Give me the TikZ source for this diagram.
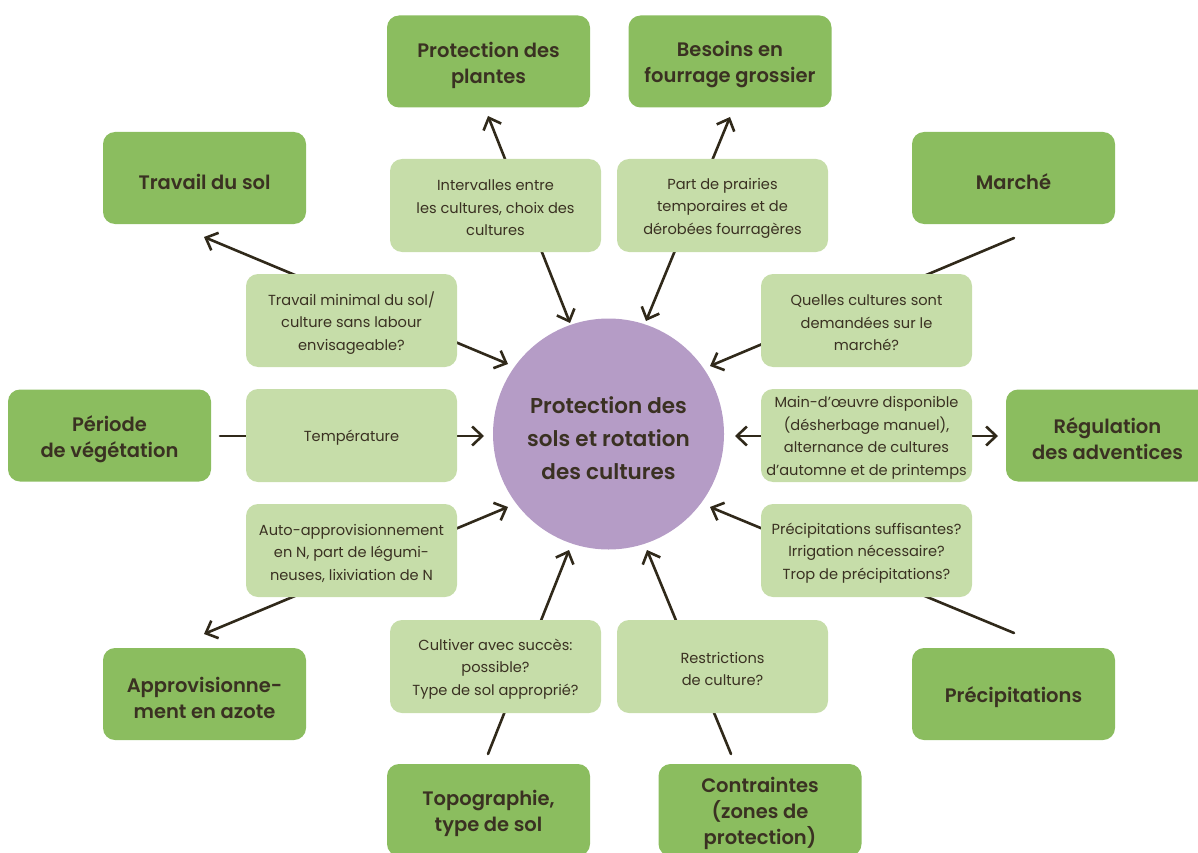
\documentclass[tikz,border=0pt]{standalone}
\usepackage{fontspec}
\setmainfont{Poppins}[BoldFont={Poppins SemiBold}]
\usetikzlibrary{arrows.meta}
\definecolor{dkgreen}{HTML}{8BBD5F}
\definecolor{ltgreen}{HTML}{C6DDA9}
\definecolor{purp}{HTML}{B59CC6}
\definecolor{txt}{HTML}{3A3122}
\definecolor{ln}{HTML}{30291A}
\begin{document}
\begin{tikzpicture}[x=1pt,y=-1pt,
  outertext/.style={text=txt, font=\bfseries\fontsize{19.5}{26}\selectfont, align=center, inner sep=0pt, yshift=-3.5pt},
  midtext/.style={text=txt, font=\fontsize{14.6}{22.5}\selectfont, align=center, inner sep=0pt, yshift=-2.5pt},
  outerbox/.style={fill=dkgreen, rounded corners=12pt, minimum width=203pt, minimum height=92pt,
    inner sep=0pt, label={[outertext]center:{#1}}},
  midbox/.style={fill=ltgreen, rounded corners=12pt, minimum width=211pt, minimum height=93pt,
    inner sep=0pt, label={[midtext]center:{#1}}},
  link/.style={draw=ln, line width=2.6pt, line cap=round},
  tipped/.style={arrows={Straight Barb[length=10pt,width=19pt]-Straight Barb[length=10pt,width=19pt]}},
  onetip/.style={arrows={-Straight Barb[length=10pt,width=19pt]}}
]
\useasboundingbox (0,0) rectangle (1198,853);

% connector end points
\coordinate (a1) at (488,116);  \coordinate (b1) at (570,323);
\coordinate (a2) at (730,117);  \coordinate (b2) at (646,321);
\coordinate (a3) at (204,237);  \coordinate (b3) at (508,364);
\coordinate (a4) at (1014,238); \coordinate (b4) at (710,366);
\coordinate (a5) at (220,436);  \coordinate (b5) at (484,436);
\coordinate (a6) at (998,436);  \coordinate (b6) at (735,436);
\coordinate (a7) at (204,634);  \coordinate (b7) at (508,507);
\coordinate (a8) at (1014,633); \coordinate (b8) at (710,507);
\coordinate (a9) at (488,754);  \coordinate (b9) at (569,550);
\coordinate (a10) at (731,754); \coordinate (b10) at (647,550);

\draw[link,tipped] (a1) -- (b1);
\draw[link,tipped] (a2) -- (b2);
\draw[link,tipped] (a3) -- (b3);
\draw[link,onetip] (a4) -- (b4);
\draw[link,onetip] (a5) -- (b5);
\draw[link,tipped] (a6) -- (b6);
\draw[link,tipped] (a7) -- (b7);
\draw[link,onetip] (a8) -- (b8);
\draw[link,onetip] (a9) -- (b9);
\draw[link,onetip] (a10) -- (b10);

% centre
\node[circle, fill=purp, minimum size=231pt, inner sep=0pt,
  label={[text=txt, align=center, inner sep=0pt, yshift=-4pt,
  font=\bfseries\fontsize{21.5}{33}\selectfont]center:{Protection des\\sols et rotation\\des cultures}}]
  (centre) at (608.5,434) {};

% outer boxes
\node[outerbox={Protection des\\plantes}] (plantes) at (488.5,61.5) {};
\node[outerbox={Besoins en\\fourrage grossier}] (fourrage) at (730,61.5) {};
\node[outerbox={Travail du sol}] (travail) at (204.5,178) {};
\node[outerbox={Marché}] (marche) at (1013.5,178) {};
\node[outerbox={Période\\de végétation}] (periode) at (109.5,435.5) {};
\node[outerbox={Régulation\\des adventices}] (regul) at (1107.5,435.5) {};
\node[outerbox={Approvisionne-\\ment en azote}] (azote) at (204.5,694) {};
\node[outerbox={Précipitations}] (precip) at (1013.5,694) {};
\node[outerbox={Topographie,\\type de sol}] (topo) at (488.5,810) {};
\node[outerbox={Contraintes\\(zones de\\protection)}] (contr) at (760,810) {};

% middle boxes
\node[midbox={Intervalles entre\\les cultures, choix des\\cultures}] (inter) at (495.5,205.5) {};
\node[midbox={Part de prairies\\temporaires et de\\dérobées fourragères}] (prair) at (722.5,205.5) {};
\node[midbox={Travail minimal du sol/\\culture sans labour\\envisageable?}] (minimal) at (351.5,320.5) {};
\node[midbox={Quelles cultures sont\\demandées sur le\\marché?}] (quelles) at (866.5,320.5) {};
\node[midbox={Température}] (temp) at (351.5,435.5) {};
\node[midbox={Main-d’œuvre disponible\\(désherbage manuel),\\alternance de cultures\\d’automne et de printemps}] (main) at (866.5,435.5) {};
\node[midbox={Auto-approvisionnement\\en N, part de légumi-\\neuses, lixiviation de N}] (auto) at (351.5,550.5) {};
\node[midbox={Précipitations suffisantes?\\Irrigation nécessaire?\\Trop de précipitations?}] (precq) at (866.5,550.5) {};
\node[midbox={Cultiver avec succès:\\possible?\\Type de sol approprié?}] (cult) at (495.5,666.5) {};
\node[midbox={Restrictions\\de culture?}] (restr) at (722.5,666.5) {};
\end{tikzpicture}
\end{document}
